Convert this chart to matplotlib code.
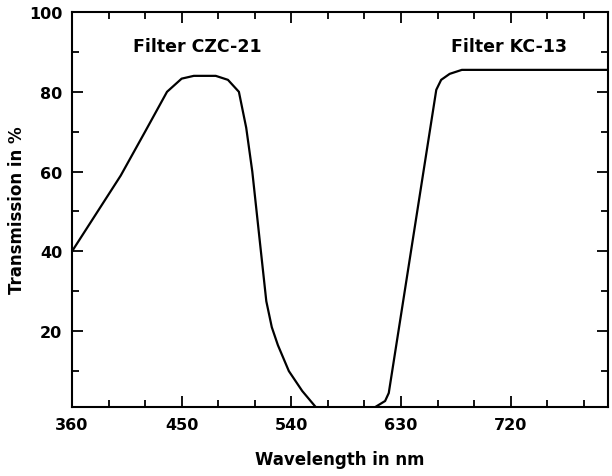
import matplotlib.pyplot as plt
from matplotlib.ticker import MultipleLocator

# Filter CZC-21 (blue-green band pass)
czc_wl = [360, 380, 400, 420, 438, 450, 460, 478, 488, 497, 503, 508, 514, 519.5, 524, 529, 538, 549, 560]
czc_tr = [40, 49.5, 59, 70, 80, 83.3, 84, 84, 83, 80, 71, 60, 43, 27.5, 21, 16.5, 10, 5, 1]

# Filter KC-13 (red long pass)
kc_wl = [609, 617, 620, 659, 663, 670, 680, 800]
kc_tr = [1, 2.5, 4.5, 80.5, 83, 84.5, 85.5, 85.5]

x_ticks = [360, 450, 540, 630, 720]
y_ticks = [20, 40, 60, 80, 100]

plt.rcParams['font.family'] = 'DejaVu Sans'
plt.rcParams['font.weight'] = 'bold'

fig = plt.figure(figsize=(6.12, 4.77), dpi=100)
ax = fig.add_axes([0.1176, 0.1447, 0.876, 0.828])

ax.plot(czc_wl, czc_tr, color='black', lw=1.6)
ax.plot(kc_wl, kc_tr, color='black', lw=1.6)

ax.set_xlim(360, 800)
ax.set_ylim(1, 100)
ax.set_xticks(x_ticks)
ax.set_yticks(y_ticks)
ax.xaxis.set_minor_locator(MultipleLocator(30))
ax.yaxis.set_minor_locator(MultipleLocator(10))
ax.tick_params(which='both', direction='in', top=True, right=True, width=1.3, labelsize=11.5)
ax.tick_params(which='major', length=8, pad=7)
ax.tick_params(which='minor', length=5)
for s in ax.spines.values():
    s.set_linewidth(1.5)

ax.text(463, 91.5, 'Filter CZC-21', ha='center', va='center', fontsize=12.5, fontweight='bold')
ax.text(719, 91.5, 'Filter KC-13', ha='center', va='center', fontsize=12.5, fontweight='bold')

ax.set_xlabel('Wavelength in nm', fontsize=12, fontweight='bold', labelpad=13)
ax.set_ylabel('Transmission in %', fontsize=12, fontweight='bold', labelpad=2)

fig.savefig('out.png', dpi=100)
